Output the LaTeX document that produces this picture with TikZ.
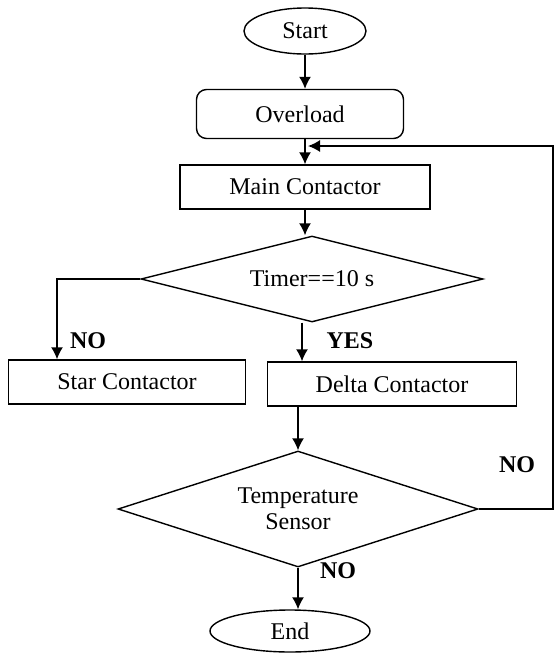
\documentclass[tikz,border=0pt]{standalone}
\usepackage{fontspec}
\setmainfont{Liberation Serif}
\usetikzlibrary{shapes.geometric,arrows.meta}

\begin{document}
\begin{tikzpicture}[x=0.5pt, y=-0.5pt, line width=0.7pt,
    every node/.style={font=\fontsize{12}{13}\selectfont},
    terminal/.style={draw, ellipse, inner sep=0pt},
    process/.style={draw, rectangle, inner sep=0pt},
    decision/.style={draw, diamond, inner sep=0pt, align=center},
    answer/.style={font=\fontsize{12}{13}\selectfont\bfseries},
    arrow/.style={-{Latex[length=6pt,width=6pt]}}]
    \useasboundingbox (0, 0) rectangle (555, 654);

    \node[terminal, minimum width=61pt, minimum height=23pt] (start) at (305, 31) {Start};
    \node[process, rounded corners=5pt, minimum width=103.5pt, minimum height=24.5pt] (overload) at (300, 114) {Overload};
    \node[process, minimum width=125pt, minimum height=22pt] (main) at (305, 187) {Main Contactor};
    \node[decision, aspect=4, minimum width=171pt, minimum height=43pt] (timer) at (312, 279) {Timer==10 s};
    \node[process, minimum width=118.5pt, minimum height=22pt] (star) at (127, 382) {Star Contactor};
    \node[process, minimum width=124.5pt, minimum height=22pt] (delta) at (392, 384) {Delta Contactor};
    \node[decision, aspect=3, minimum width=180pt, minimum height=58pt] (temp) at (298, 509) {Temperature\\Sensor};
    \node[terminal, minimum width=80pt, minimum height=21pt] (end) at (290, 631) {End};

    \node[answer] (no1) at (88, 341) {NO};
    \node[answer] (yes) at (350, 341) {YES};
    \node[answer] (no2) at (517, 465) {NO};
    \node[answer] (no3) at (338, 571) {NO};

    \coordinate (yestop) at ([xshift=-5pt]timer.south);
    \coordinate (loop) at (553, 146);
    \coordinate (loopend) at (308, 146);

    \draw[arrow] (start.south) -- (start.south |- overload.north);
    \draw[arrow] (overload.south -| main.north) -- (main.north);
    \draw[arrow] (main.south) -- (main.south |- timer.north);
    \draw[arrow] (timer.west) -| ([xshift=-35pt]star.north);
    \draw[arrow] (yestop) -- (yestop |- delta.north);
    \draw[arrow] (delta.south -| temp.north) -- (temp.north);
    \draw[arrow] (temp.south) -- (temp.south |- end.north);
    \draw[arrow] (temp.east) -| (loop) -- (loopend);
\end{tikzpicture}
\end{document}
